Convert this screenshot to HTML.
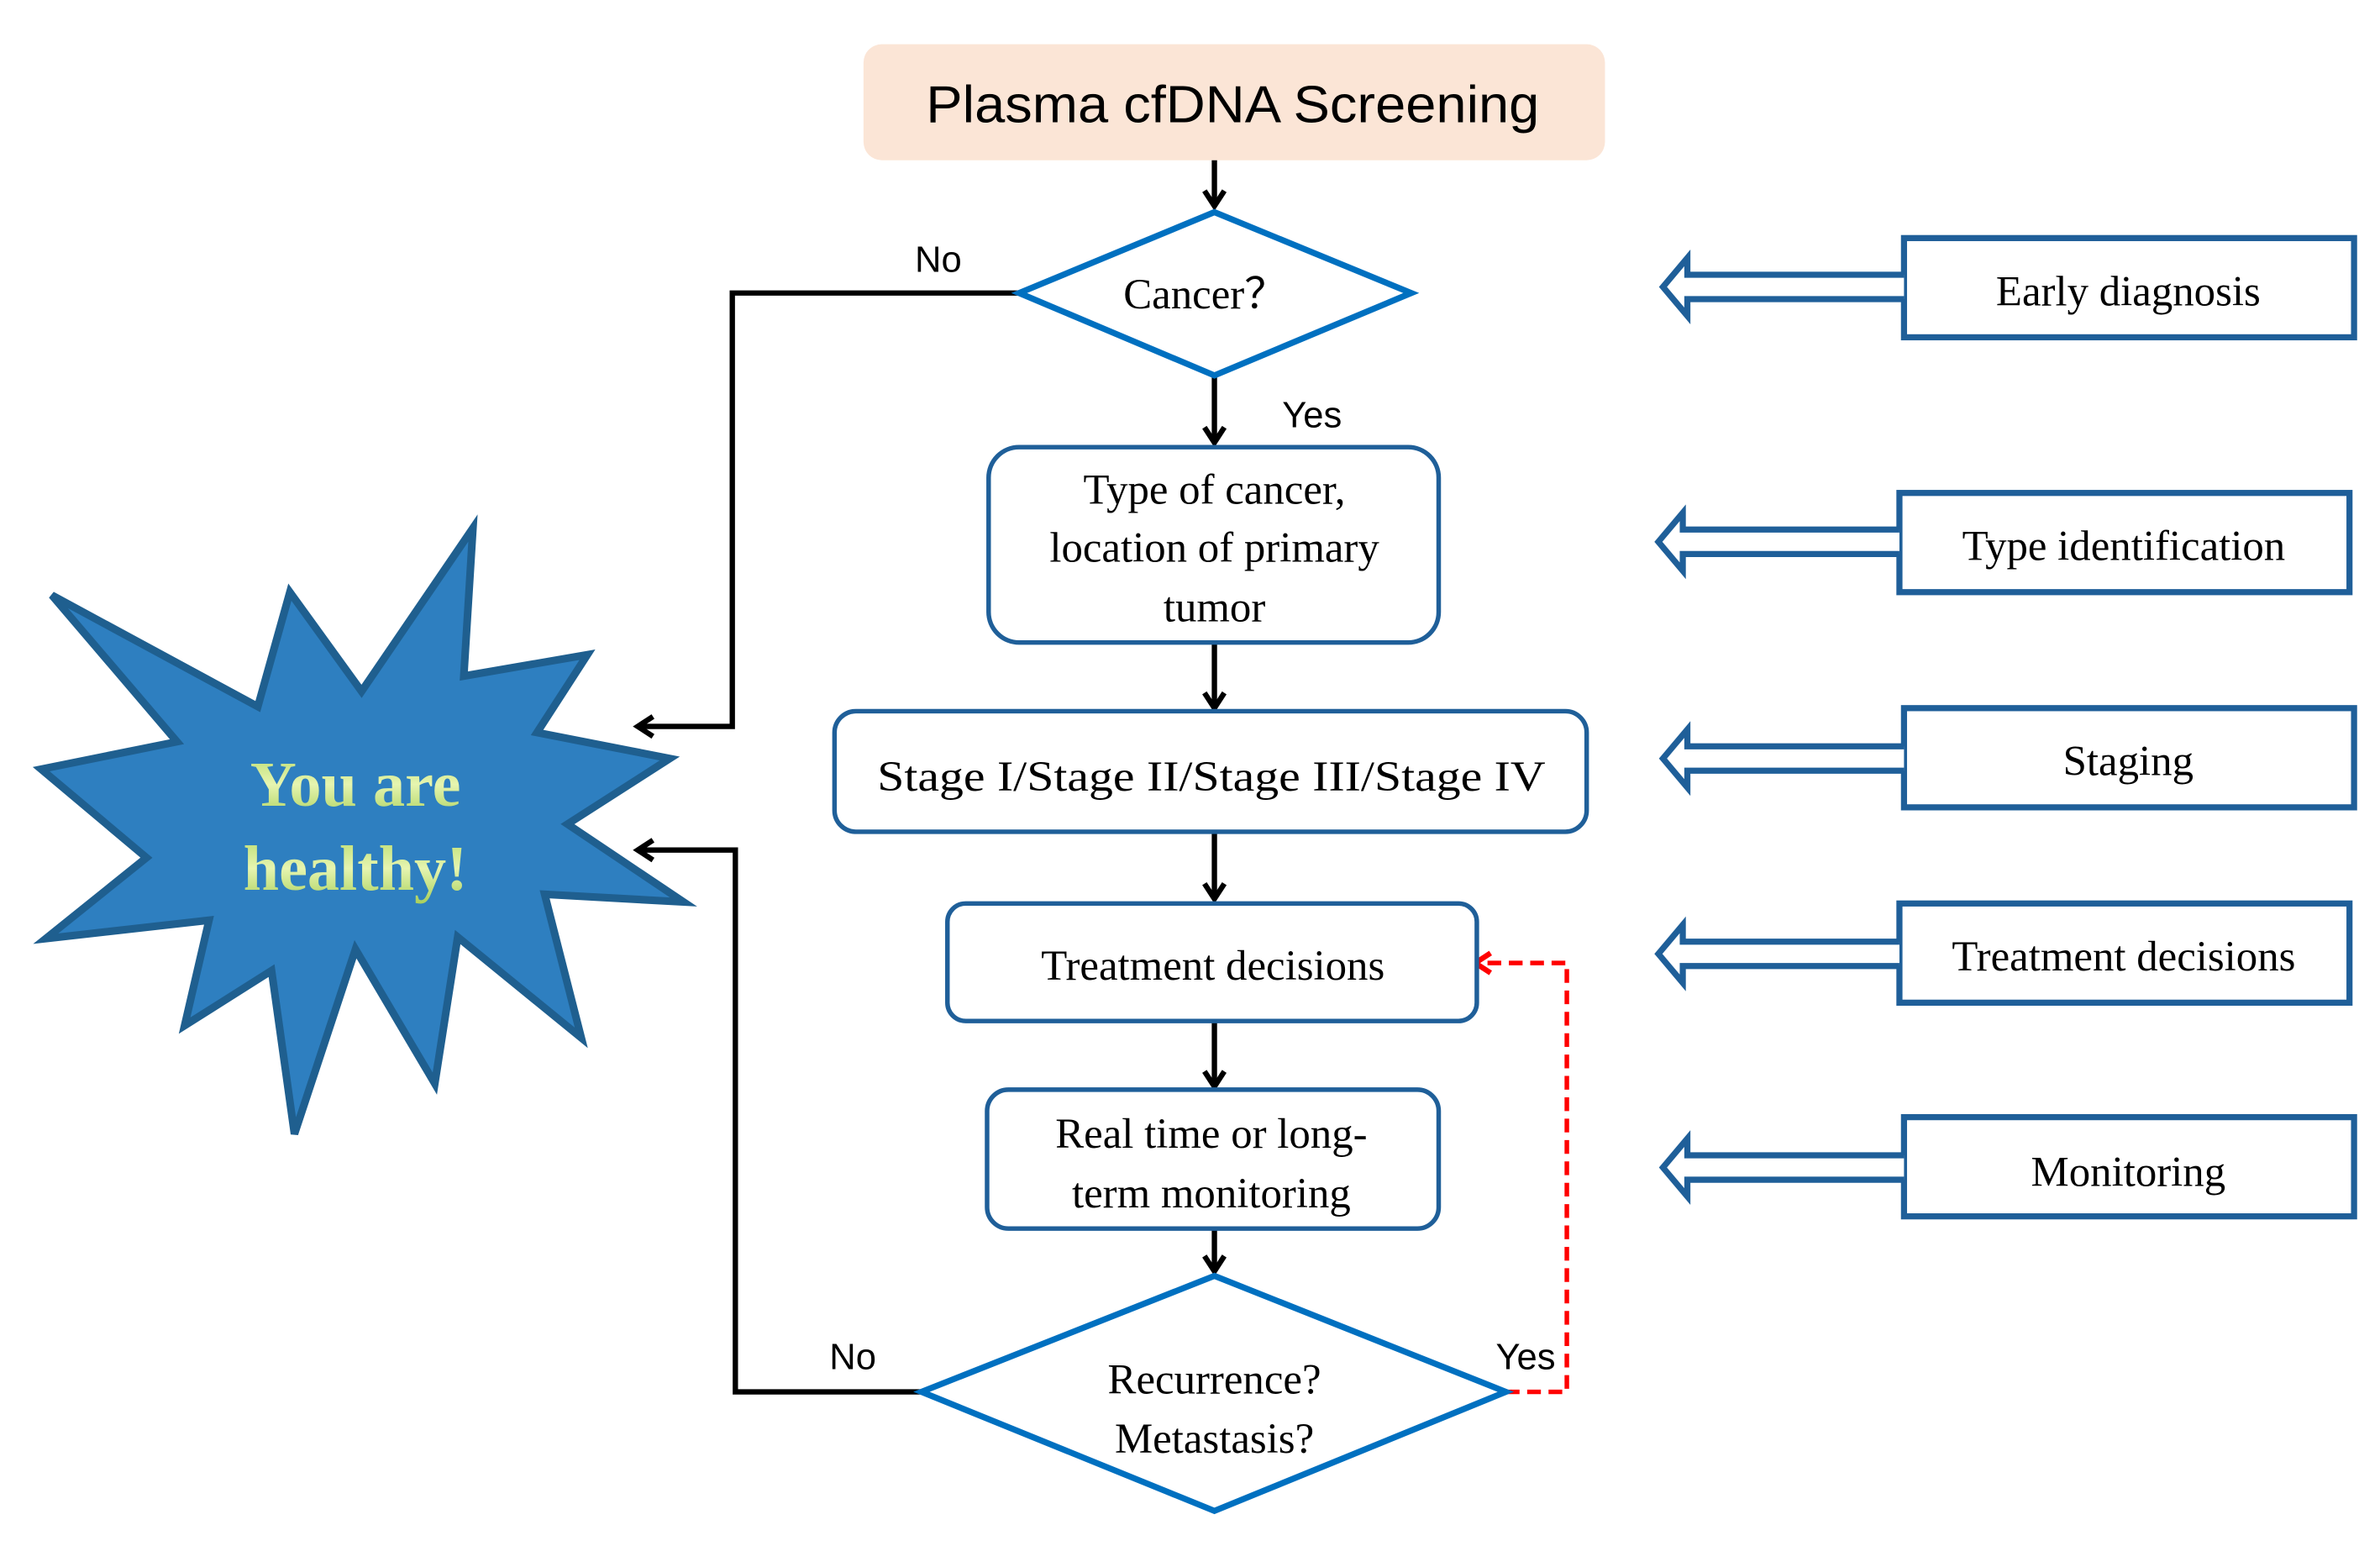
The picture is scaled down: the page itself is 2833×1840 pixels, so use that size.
<!DOCTYPE html>
<html><head><meta charset="utf-8"><style>html,body{margin:0;padding:0;background:#fff}svg{display:block}</style></head>
<body>
<svg width="2833" height="1840" viewBox="0 0 1560 1013" preserveAspectRatio="none" xmlns="http://www.w3.org/2000/svg">
<defs>
<marker id="ah" markerWidth="16" markerHeight="16" refX="12" refY="8" orient="auto" markerUnits="userSpaceOnUse">
<path d="M2,1.5 L12,8 L2,14.5" fill="none" stroke="#000" stroke-width="3.5"/>
</marker>
<marker id="ahr" markerWidth="16" markerHeight="16" refX="12" refY="8" orient="auto" markerUnits="userSpaceOnUse">
<path d="M2,1.5 L12,8 L2,14.5" fill="none" stroke="#f00" stroke-width="3.5"/>
</marker>
<linearGradient id="gt" x1="0" y1="0" x2="0" y2="1">
<stop offset="0" stop-color="#b6d96a"/><stop offset="0.5" stop-color="#e6f5b0"/><stop offset="1" stop-color="#a8cf5a"/>
</linearGradient>
</defs>

<rect x="566" y="29" width="486" height="76" rx="12" fill="#fbe5d6"/>
<text x="808" y="80" font-family="Liberation Sans, sans-serif" font-size="34" text-anchor="middle" textLength="402" lengthAdjust="spacingAndGlyphs">Plasma cfDNA Screening</text>

<g stroke="#000" stroke-width="3.5" fill="none">
<line x1="796" y1="105" x2="796" y2="135" marker-end="url(#ah)"/>
<line x1="796" y1="246" x2="796" y2="290" marker-end="url(#ah)"/>
<line x1="796" y1="421" x2="796" y2="464" marker-end="url(#ah)"/>
<line x1="796" y1="545" x2="796" y2="589" marker-end="url(#ah)"/>
<line x1="796" y1="669" x2="796" y2="712" marker-end="url(#ah)"/>
<line x1="796" y1="805" x2="796" y2="833" marker-end="url(#ah)"/>
<polyline points="668,192 480,192 480,476 418,476" marker-end="url(#ah)"/>
<polyline points="604,912 482,912 482,557 418,557" marker-end="url(#ah)"/>
</g>
<polyline points="987,912 1027,912 1027,631 967,631" fill="none" stroke="#f00" stroke-width="3" stroke-dasharray="9,5" marker-end="url(#ahr)"/>

<polygon points="796,139 925,192 796,246 668,192" fill="#fff" stroke="#0070c0" stroke-width="4"/>
<polygon points="796,836 987,912 796,990 604,912" fill="#fff" stroke="#0070c0" stroke-width="4"/>

<g fill="#fff" stroke="#1f5f99" stroke-width="3">
<rect x="648" y="293" width="295" height="128" rx="20"/>
<rect x="547" y="466" width="493" height="79" rx="14"/>
<rect x="621" y="592" width="347" height="77" rx="12"/>
<rect x="647" y="714" width="296" height="91" rx="14"/>
</g>

<g font-family="Liberation Serif, serif" font-size="28" text-anchor="middle" fill="#000">
<text x="790" y="202">Cancer？</text>
<text x="796" y="330">Type of cancer,</text>
<text x="796" y="368">location of primary</text>
<text x="796" y="407">tumor</text>
<text x="794" y="518" textLength="438" lengthAdjust="spacingAndGlyphs">Stage I/Stage II/Stage III/Stage IV</text>
<text x="795" y="642">Treatment decisions</text>
<text x="794" y="752">Real time or long-</text>
<text x="794" y="791">term monitoring</text>
<text x="796" y="913">Recurrence?</text>
<text x="796" y="952">Metastasis?</text>
</g>
<g font-family="Liberation Sans, sans-serif" font-size="24" fill="#000" text-anchor="middle">
<text x="615" y="178">No</text>
<text x="860" y="280">Yes</text>
<text x="559" y="897">No</text>
<text x="1000" y="897">Yes</text>
</g>

<polygon points="310,346 304,443 385,429 352,480 439,497 372,540 448,591 357,586 381,680 300,614 285,710 233,622 193,743 178,636 121,672 137,603 30,615 96,562 27,504 116,486 34,390 169,463 190,388 237,453" fill="#2e7fc0" stroke="#1f5f8f" stroke-width="5" stroke-linejoin="miter"/>
<g font-family="Liberation Serif, serif" font-weight="bold" font-size="42" text-anchor="middle" fill="url(#gt)">
<text x="233" y="528">You are</text>
<text x="233" y="583">healthy!</text>
</g>

<g fill="#fff" stroke="#1f5f99" stroke-width="4">
<rect x="1248" y="156" width="295" height="65"/>
<path d="M1248,180 L1106,180 L1106,169 L1090,188 L1106,207 L1106,196 L1248,196"/>
<rect x="1245" y="323" width="295" height="65"/>
<path d="M1245,347 L1103,347 L1103,336 L1087,355 L1103,374 L1103,363 L1245,363"/>
<rect x="1248" y="464" width="295" height="65"/>
<path d="M1248,489 L1106,489 L1106,478 L1090,497 L1106,516 L1106,505 L1248,505"/>
<rect x="1245" y="592" width="295" height="65"/>
<path d="M1245,617 L1103,617 L1103,606 L1087,625 L1103,644 L1103,633 L1245,633"/>
<rect x="1248" y="732" width="295" height="65"/>
<path d="M1248,757 L1106,757 L1106,746 L1090,765 L1106,784 L1106,773 L1248,773"/>
</g>
<g font-family="Liberation Serif, serif" font-size="28" text-anchor="middle" fill="#000">
<text x="1395" y="200">Early diagnosis</text>
<text x="1392" y="367">Type identification</text>
<text x="1395" y="508">Staging</text>
<text x="1392" y="636">Treatment decisions</text>
<text x="1395" y="777">Monitoring</text>
</g>
</svg>
</body></html>
